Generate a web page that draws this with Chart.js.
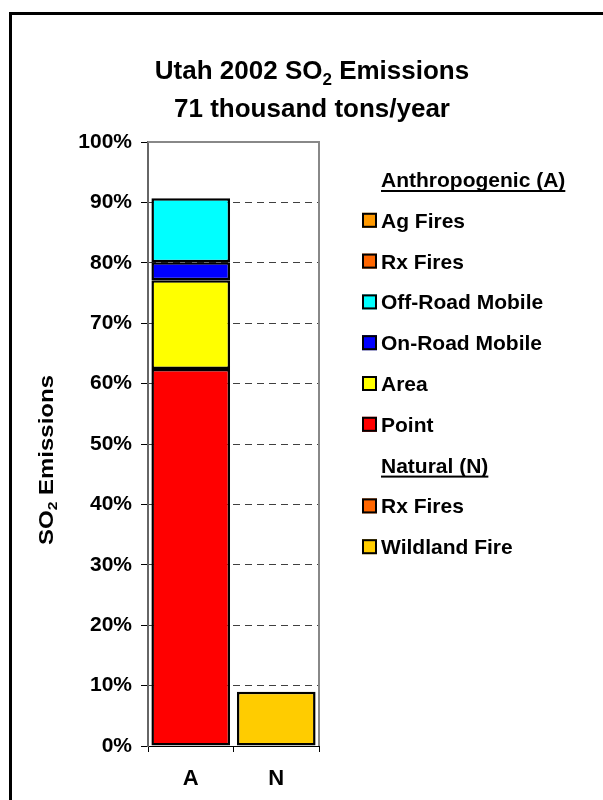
<!DOCTYPE html>
<html>
<head>
<meta charset="utf-8">
<script src="https://cdn.jsdelivr.net/npm/chart.js@4.4.1/dist/chart.umd.min.js"></script>
<style>
  html, body { margin: 0; padding: 0; background: #fff; }
  canvas { display: block; }
</style>
</head>
<body>
<canvas id="chartSO2" width="603" height="800"></canvas>
<script>
const categories = ['A', 'N'];

// Anthropogenic sources (bar A), in legend order (top to bottom)
const anthroLabels = ['Ag Fires', 'Rx Fires', 'Off-Road Mobile', 'On-Road Mobile', 'Area', 'Point'];
const anthroValues = [0, 0, 10.6, 3.0, 14.7, 62.4];
const anthroColors = ['#ff9900', '#ff6600', '#00ffff', '#0000ff', '#ffff00', '#ff0000'];

// Natural sources (bar N)
const naturalLabels = ['Rx Fires', 'Wildland Fire'];
const naturalValues = [0, 9.0];
const naturalColors = ['#ff6600', '#ffcc00'];

const titleText = ['Utah 2002 SO₂ Emissions', '71 thousand tons/year'];
const yAxisText = 'SO₂ Emissions';
const legendHeads = ['Anthropogenic (A)', 'Natural (N)'];

const FONT = "'Liberation Sans', Arial, sans-serif";

// datasets stack bottom-up, so reverse legend order
const datasets = [];
for (let i = anthroLabels.length - 1; i >= 0; i--) {
    datasets.push({ label: anthroLabels[i], data: [anthroValues[i], null], backgroundColor: anthroColors[i] });
}
for (let i = naturalLabels.length - 1; i >= 0; i--) {
    datasets.push({ label: naturalLabels[i], data: [null, naturalValues[i]], backgroundColor: naturalColors[i] });
}

// draws text where '₂' is shown as a lowered small 2
function drawSubText(ctx, text, x, y, size, align) {
    const parts = text.split('₂');
    const big = 'bold ' + size + 'px ' + FONT;
    const small = 'bold ' + Math.round(size * 0.65) + 'px ' + FONT;
    let total = 0;
    parts.forEach((p, i) => {
        ctx.font = big; total += ctx.measureText(p).width;
        if (i < parts.length - 1) { ctx.font = small; total += ctx.measureText('2').width; }
    });
    let cx = align === 'center' ? x - total / 2 : x;
    ctx.textAlign = 'left';
    ctx.textBaseline = 'alphabetic';
    parts.forEach((p, i) => {
        ctx.font = big; ctx.fillText(p, cx, y); cx += ctx.measureText(p).width;
        if (i < parts.length - 1) {
            ctx.font = small; ctx.fillText('2', cx, y + size * 0.22); cx += ctx.measureText('2').width;
        }
    });
}

const framePlugin = {
    id: 'frame',
    beforeDraw(chart) {
        const ctx = chart.ctx;
        ctx.save();
        ctx.fillStyle = '#fff';
        ctx.fillRect(0, 0, chart.width, chart.height);
        ctx.strokeStyle = '#000';
        ctx.lineWidth = 3;
        ctx.strokeRect(10.5, 13.5, 700, 900);
        ctx.restore();
    },
    afterDatasetsDraw(chart) {
        const { ctx, chartArea } = chart;
        ctx.save();
        ctx.strokeStyle = '#888';
        ctx.lineWidth = 2;
        ctx.beginPath();
        ctx.moveTo(chartArea.left, chartArea.top);
        ctx.lineTo(chartArea.right, chartArea.top);
        ctx.lineTo(chartArea.right, chartArea.bottom);
        ctx.stroke();
        ctx.restore();
    },
    afterDraw(chart) {
        const ctx = chart.ctx;
        ctx.save();
        ctx.fillStyle = '#000';
        // title
        drawSubText(ctx, titleText[0], 312, 79, 26, 'center');
        drawSubText(ctx, titleText[1], 312, 117, 26, 'center');
        // y axis title, rotated
        ctx.save();
        ctx.translate(46, 460);
        ctx.rotate(-Math.PI / 2);
        ctx.scale(1.2, 1);
        drawSubText(ctx, yAxisText, 0, 7, 20, 'center');
        ctx.restore();

        // legend on the right
        const rows = [{ head: legendHeads[0] }]
            .concat(anthroLabels.map((l, i) => ({ label: l, color: anthroColors[i] })))
            .concat([{ head: legendHeads[1] }])
            .concat(naturalLabels.map((l, i) => ({ label: l, color: naturalColors[i] })));
        ctx.font = 'bold 21px ' + FONT;
        ctx.textAlign = 'left';
        ctx.textBaseline = 'alphabetic';
        rows.forEach((r, i) => {
            const base = 187 + i * 40.8;
            if (r.head) {
                ctx.fillStyle = '#000';
                ctx.fillText(r.head, 381, base);
                const w = ctx.measureText(r.head).width;
                ctx.fillRect(381, base + 3, w, 2);
            } else {
                ctx.fillStyle = r.color;
                ctx.fillRect(362, base - 15, 15, 15);
                ctx.strokeStyle = '#000';
                ctx.lineWidth = 2;
                ctx.strokeRect(363, base - 14, 13, 13);
                ctx.fillStyle = '#000';
                ctx.fillText(r.label, 381, base);
            }
        });
        ctx.restore();
    }
};

new Chart(document.getElementById('chartSO2'), {
    type: 'bar',
    data: { labels: categories, datasets: datasets },
    plugins: [framePlugin],
    options: {
        responsive: false,
        animation: false,
        layout: { padding: { top: 142, right: 284, bottom: 0, left: 0 } },
        datasets: {
            bar: {
                borderColor: '#000',
                borderWidth: 2.5,
                borderSkipped: false,
                barPercentage: 0.92,
                categoryPercentage: 1
            }
        },
        plugins: {
            legend: { display: false },
            title: { display: false },
            tooltip: { enabled: false }
        },
        scales: {
            x: {
                stacked: true,
                afterFit: s => { s.height = 54; },
                grid: { drawOnChartArea: false, offset: true, tickLength: 6, color: '#000' },
                border: { color: '#000', width: 1 },
                ticks: { color: '#000', padding: 14, font: { family: FONT, size: 22, weight: 'bold' } }
            },
            y: {
                stacked: true,
                min: 0,
                max: 100,
                afterFit: s => { s.width = 148; },
                grid: {
                    color: c => (c.tick && (c.tick.value === 0 || c.tick.value === 100)) ? 'rgba(0,0,0,0)' : '#404040',
                    tickColor: '#000',
                    tickLength: 7
                },
                border: { color: '#666', width: 2, dash: [7, 5] },
                ticks: {
                    stepSize: 10,
                    color: '#000',
                    padding: 9,
                    font: { family: FONT, size: 21, weight: 'bold' },
                    callback: v => v + '%'
                }
            }
        }
    }
});
</script>
</body>
</html>
